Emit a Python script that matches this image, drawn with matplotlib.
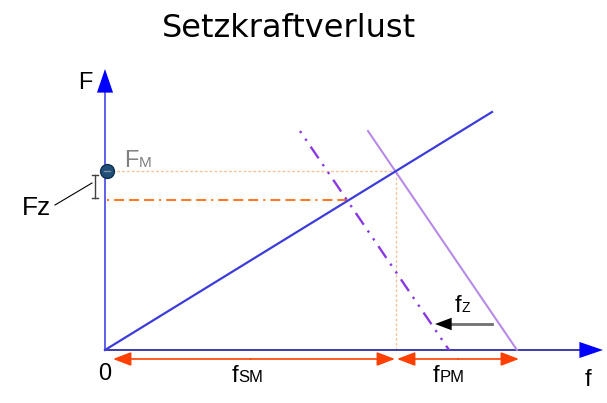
import matplotlib.pyplot as plt

# Werte in Pixel-Einheiten relativ zum Ursprung (f nach rechts, F nach oben)
bolt_f = [0, 387]          # Schraube
bolt_F = [0, 238]
clamp_f = [263, 412]       # Platten vor dem Setzen
clamp_F = [219, 0]
settled_f = [195, 344]     # Platten nach dem Setzen (um fZ verschoben)
settled_F = [219, 0]

f_SM = 291                 # Schraubenverlängerung bei Montage
f_PM = 124                 # Plattenstauchung bei Montage
F_M = 179                  # Montagevorspannkraft
F_rest = 150               # Restvorspannkraft nach dem Setzen
f_rest = 243
fz_arrow = [387, 330]      # Pfeil fZ (von, nach)
fz_arrow_F = 26

x_axis_end = 474
y_axis_end = 258

fig = plt.figure(figsize=(6.07, 4.03), dpi=100)
ax = fig.add_axes([0, 0, 1, 1])
ax.set_xlim(-105, 502)
ax.set_ylim(-53, 350)
ax.axis('off')

main_font = 'Liberation Sans'


def arrow(x0, y0, x1, y1, color, hl, hw, lw=0, zorder=3):
    ax.annotate('', xy=(x1, y1), xytext=(x0, y0),
                arrowprops=dict(arrowstyle=f'-|>,head_length={hl},head_width={hw}',
                                color=color, lw=lw, shrinkA=0, shrinkB=0,
                                mutation_scale=1),
                zorder=zorder)


def label(x, y, main, small, size, small_size, color='black'):
    t = ax.text(x, y, main, fontsize=size, color=color, family=main_font,
                va='baseline', ha='left')
    if small:
        ax.annotate(small, xy=(1, 0), xycoords=t, xytext=(0, 1.2), textcoords='offset points',
                    fontsize=small_size, color=color, family=main_font, va='bottom', ha='left')


# Achsen
ax.plot([0, x_axis_end], [0, 0], color='#1a1aa0', lw=1.2, zorder=2)
ax.plot([0, 0], [0, y_axis_end], color='#4646e6', lw=1.2, zorder=2)
arrow(x_axis_end - 2, 0, x_axis_end + 24, 0, '#0000ff', 17, 5.8)
arrow(0, y_axis_end - 2, 0, y_axis_end + 23, '#0000ff', 17, 5.8)

# Hilfslinien
ax.plot([2, f_SM], [F_M, F_M], color='#f5c49a', lw=1, ls=(0, (2, 1.5)), zorder=1)
ax.plot([f_SM, f_SM], [0, F_M], color='#f5c49a', lw=1, ls=(0, (2, 1.5)), zorder=1)
ax.plot([2, f_rest], [F_rest, F_rest], color='#ff7a26', lw=1.5,
        ls=(0, (1, 2.4, 4.8, 2.4, 4.8, 2.4, 4.8, 2.4)), zorder=2)

# Kennlinien
ax.plot(bolt_f, bolt_F, color='#3c3cdc', lw=1.6, zorder=3)
ax.plot(clamp_f, clamp_F, color='#b88ae8', lw=1.5, zorder=2)
ax.plot(settled_f, settled_F, color='#8a3ae0', lw=1.7,
        ls=(0, (1, 3, 1, 3, 6, 3)), zorder=2)

# Punkt FM
ax.plot([2], [F_M], 'o', ms=10, color='#1f4e79', mec='#10304f', mew=1, zorder=4)
ax.plot([-1, 5], [F_M, F_M], color='#8090a0', lw=1, zorder=5)

# Fz Klammer
ax.plot([-10, -10], [F_rest + 2, F_M - 4], color='#404040', lw=1)
ax.plot([-13, -7], [F_rest + 2, F_rest + 2], color='#404040', lw=1)
ax.plot([-13, -7], [F_M - 4, F_M - 4], color='#404040', lw=1)
ax.plot([-50, -13], [145, 167], color='black', lw=0.8)

# Massketten unten
arrow(f_SM / 2, -9, 8, -9, '#ff4000', 11, 4.2, lw=1.2)
arrow(f_SM / 2, -9, f_SM - 1, -9, '#ff4000', 11, 4.2, lw=1.2)
arrow(f_SM + f_PM / 2, -9, f_SM + 1, -9, '#ff4000', 11, 4.2, lw=1.2)
arrow(f_SM + f_PM / 2, -9, f_SM + f_PM - 1, -9, '#ff4000', 11, 4.2, lw=1.2)

# Pfeil fZ
ax.plot([fz_arrow[0], fz_arrow[1] + 14], [fz_arrow_F, fz_arrow_F], color='#707070', lw=2)
arrow(fz_arrow[1] + 14, fz_arrow_F, fz_arrow[1], fz_arrow_F, 'black', 12, 4.5)

# Beschriftungen
ax.text(-20, 261, 'F', fontsize=17, family=main_font, ha='center', va='baseline')
label(19, 183, 'F', 'M', 17, 11, color='#808080')
label(-83, 135, 'Fz', None, 19, 0)
ax.text(0, -30, '0', fontsize=17, family=main_font, ha='center', va='baseline')
label(127, -32, 'f', 'SM', 17, 12)
label(328, -32, 'f', 'PM', 17, 12)
label(350, 38, 'f', 'Z', 17, 10)
ax.text(483, -36, 'f', fontsize=17, family=main_font, ha='center', va='baseline')

fig.text(289 / 607, 1 - 37 / 403, 'Setzkraftverlust', fontsize=23, family='DejaVu Sans',
         ha='center', va='baseline')

fig.savefig('out.png', dpi=100)
